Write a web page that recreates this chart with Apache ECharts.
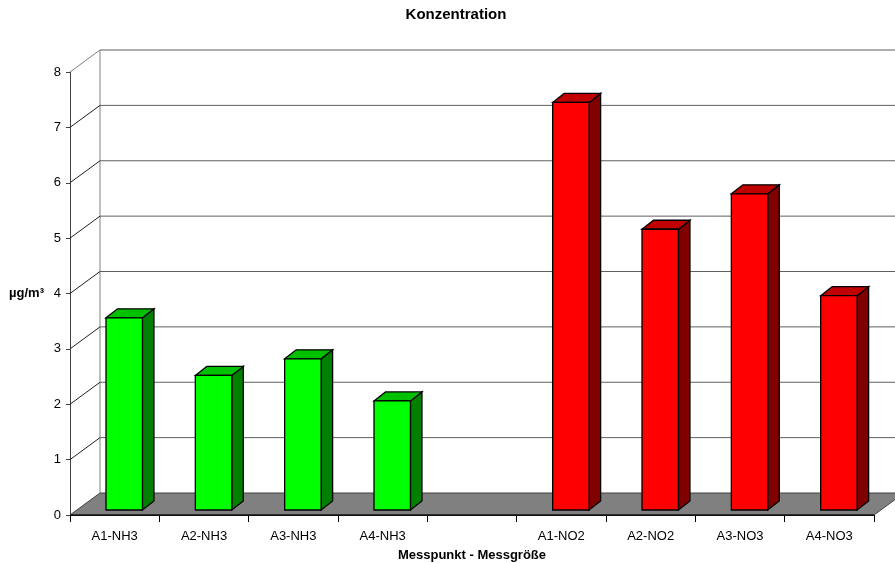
<!DOCTYPE html>
<html>
<head>
<meta charset="utf-8">
<script src="https://cdn.jsdelivr.net/npm/echarts@6/dist/echarts.min.js"></script>
<style>
  html, body { margin: 0; padding: 0; background: #ffffff; }
  #chart { width: 895px; height: 563px; }
</style>
</head>
<body>
<div id="chart"></div>
<script>
// Measuring points / measured quantity (the empty slot separates the two groups)
const categories = ['A1-NH3', 'A2-NH3', 'A3-NH3', 'A4-NH3', '', 'A1-NO2', 'A2-NO2', 'A3-NO3', 'A4-NO3'];
// Concentrations in µg/m³
const nh3Values = [3.47, 2.43, 2.73, 1.97];
const nh3Index  = [0, 1, 2, 3];
const noxValues = [7.36, 5.07, 5.71, 3.87];
const noxIndex  = [5, 6, 7, 8];
// Value axis ticks
const yTicks = [0, 1, 2, 3, 4, 5, 6, 7, 8];

const FONT = '"Liberation Sans", Arial, sans-serif';

// Pseudo-3D depth of the chart box (screen offset from front plane to back wall)
const DEPTH_X = 30, DEPTH_Y = -22;
// Bars stand slightly behind the front plane and have their own depth
const FACE_X = 0, FACE_Y = -5;
const BAR_DX = 11.5, BAR_DY = -9;

function frameItem(params, api) {
  const cs = params.coordSys;
  const x0 = cs.x, x1 = cs.x + cs.width;
  const yBase = api.coord([0, 0])[1];
  const children = [];
  // floor
  children.push({
    type: 'polygon',
    shape: { points: [[x0, yBase], [x1, yBase], [x1 + DEPTH_X, yBase + DEPTH_Y], [x0 + DEPTH_X, yBase + DEPTH_Y]] },
    style: { fill: '#808080', stroke: '#404040', lineWidth: 1 }
  });
  // back wall left edge
  const yTop = api.coord([0, yTicks[yTicks.length - 1]])[1];
  children.push({
    type: 'line',
    shape: { x1: x0 + DEPTH_X, y1: yBase + DEPTH_Y, x2: x0 + DEPTH_X, y2: yTop + DEPTH_Y },
    style: { stroke: '#808080', lineWidth: 1 }
  });
  // back-wall grid lines and the side-wall connectors
  yTicks.forEach(function (v) {
    if (v === 0) return;
    const y = api.coord([0, v])[1];
    children.push({
      type: 'line',
      shape: { x1: x0 + DEPTH_X, y1: y + DEPTH_Y, x2: x1 + DEPTH_X, y2: y + DEPTH_Y },
      style: { stroke: '#606060', lineWidth: 1 }
    });
    children.push({
      type: 'line',
      shape: { x1: x0, y1: y, x2: x0 + DEPTH_X, y2: y + DEPTH_Y },
      style: { stroke: v === yTicks[yTicks.length - 1] ? '#808080' : '#202020', lineWidth: 1 }
    });
  });
  // front edge of floor
  children.push({
    type: 'line',
    shape: { x1: x0, y1: yBase, x2: x1, y2: yBase },
    style: { stroke: '#000000', lineWidth: 1 }
  });
  return { type: 'group', children: children };
}

function barRenderer(frontColor, topColor, sideColor) {
  return function (params, api) {
    const idx = api.value(0);
    const val = api.value(1);
    const t = api.coord([idx, val]);
    const b = api.coord([idx, 0]);
    const bw = api.size([1, 0])[0];
    const L = t[0] - 0.097 * bw + FACE_X;
    const R = L + 0.408 * bw;
    const yT = t[1] + FACE_Y;
    const yB = b[1] + FACE_Y;
    const stroke = { stroke: '#000000', lineWidth: 1.3, lineJoin: 'miter' };
    return {
      type: 'group',
      children: [
        {
          type: 'polygon',
          shape: { points: [[R, yT], [R + BAR_DX, yT + BAR_DY], [R + BAR_DX, yB + BAR_DY], [R, yB]] },
          style: Object.assign({ fill: sideColor }, stroke)
        },
        {
          type: 'polygon',
          shape: { points: [[L, yT], [L + BAR_DX, yT + BAR_DY], [R + BAR_DX, yT + BAR_DY], [R, yT]] },
          style: Object.assign({ fill: topColor }, stroke)
        },
        {
          type: 'rect',
          shape: { x: L, y: yT, width: R - L, height: yB - yT },
          style: Object.assign({ fill: frontColor }, stroke)
        }
      ]
    };
  };
}

const chart = echarts.init(document.getElementById('chart'), null, { renderer: 'canvas' });

chart.setOption({
  animation: false,
  backgroundColor: '#ffffff',
  graphic: [{
    type: 'text',
    x: 456, y: 15,
    style: {
      text: 'Konzentration',
      font: 'bold 15px ' + FONT,
      fill: '#000000',
      textAlign: 'center',
      textVerticalAlign: 'middle'
    }
  }],
  grid: { left: 70, right: 21, top: 72, bottom: 48, containLabel: false, outerBoundsMode: 'none' },
  xAxis: {
    type: 'category',
    data: categories,
    boundaryGap: true,
    name: 'Messpunkt - Messgröße',
    nameLocation: 'middle',
    nameGap: 34,
    nameTextStyle: { fontFamily: FONT, fontWeight: 'bold', fontSize: 13, color: '#000' },
    axisLine: { show: true, lineStyle: { color: '#000', width: 1 } },
    axisTick: { show: true, alignWithLabel: false, length: 7, lineStyle: { color: '#000' } },
    axisLabel: { interval: 0, margin: 15, fontFamily: FONT, fontSize: 13, color: '#000' },
    splitLine: { show: false }
  },
  yAxis: {
    type: 'value',
    min: yTicks[0],
    max: yTicks[yTicks.length - 1],
    interval: 1,
    name: 'µg/m³',
    nameLocation: 'middle',
    nameRotate: 0,
    nameGap: 26,
    nameTextStyle: { fontFamily: FONT, fontWeight: 'bold', fontSize: 13, color: '#000' },
    axisLine: { show: true, lineStyle: { color: '#404040', width: 1 } },
    axisTick: { show: true, length: 4, lineStyle: { color: '#404040' } },
    axisLabel: { margin: 9, fontFamily: FONT, fontSize: 13, color: '#000' },
    splitLine: { show: false }
  },
  series: [
    {
      name: 'frame',
      type: 'custom',
      z: 1,
      silent: true,
      clip: false,
      renderItem: frameItem,
      data: [[0, 0]]
    },
    {
      name: 'NH3',
      type: 'custom',
      z: 3,
      clip: false,
      renderItem: barRenderer('#00ff00', '#00c000', '#008000'),
      data: nh3Index.map(function (i, k) { return [i, nh3Values[k]]; })
    },
    {
      name: 'NO2/NO3',
      type: 'custom',
      z: 3,
      clip: false,
      renderItem: barRenderer('#ff0000', '#c00000', '#800000'),
      data: noxIndex.map(function (i, k) { return [i, noxValues[k]]; })
    }
  ]
});
</script>
</body>
</html>
